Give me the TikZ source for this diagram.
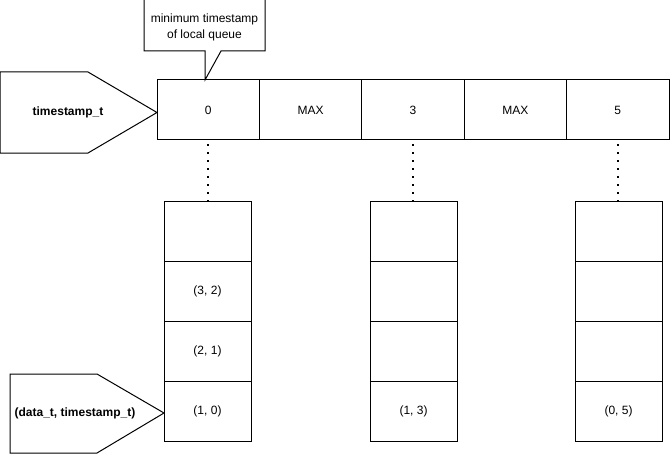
\documentclass[tikz,border=0pt]{standalone}
\usepackage{fontspec}
\setmainfont{Liberation Sans}
\begin{document}
\begin{tikzpicture}[x=0.75pt,y=-0.75pt,line width=0.75pt,
  txt/.style={font=\fontsize{9}{12}\selectfont},
  cell/.style={draw,rectangle,inner sep=0pt,outer sep=0pt,minimum width=76.8pt,minimum height=45pt,anchor=north west,txt},
  qcell/.style={draw,rectangle,inner sep=0pt,outer sep=0pt,minimum width=65.25pt,minimum height=45pt,anchor=north west,txt},
  lbl/.style={font=\fontsize{9}{12}\selectfont\bfseries},
  dotline/.style={line width=1.1pt,dash pattern=on 1.2pt off 4.8pt,dash phase=-3pt}]
\useasboundingbox (0,0) rectangle (670,456);
% callout
\draw (144,51) -- (144,-1) -- (265,-1) -- (265,51) -- (221,51) -- (205,80) -- (205,51) -- cycle;
\node[txt,align=center] (note) at (204.5,27) {minimum timestamp\\of local queue};
% top array
\node[cell] (t0) at (157,80) {0};
\node[cell] (t1) at (259.4,80) {MAX};
\node[cell] (t2) at (361.8,80) {3};
\node[cell] (t3) at (464.2,80) {MAX};
\node[cell] (t4) at (566.6,80) {5};
% pentagon 1
\draw (0,72) -- (88,72) -- (157,112.5) -- (88,153) -- (0,153) -- cycle;
\node[lbl] (p1) at (68,112) {timestamp\_t};
% pentagon 2
\draw (10,374) -- (97,374) -- (164,413) -- (97,453) -- (10,453) -- cycle;
\node[lbl] (p2) at (75,413) {(data\_t, timestamp\_t)};
% queue 1
\node[qcell] (a1) at (164,201) {};
\node[qcell] (a2) at (164,261) {(3, 2)};
\node[qcell] (a3) at (164,321) {(2, 1)};
\node[qcell] (a4) at (164,381) {(1, 0)};
% queue 2
\node[qcell] (b1) at (370,201) {};
\node[qcell] (b2) at (370,261) {};
\node[qcell] (b3) at (370,321) {};
\node[qcell] (b4) at (370,381) {(1, 3)};
% queue 3
\node[qcell] (c1) at (575,201) {};
\node[qcell] (c2) at (575,261) {};
\node[qcell] (c3) at (575,321) {};
\node[qcell] (c4) at (575,381) {(0, 5)};
% dotted links
\draw[dotline] (t0.south) -- (t0.south |- a1.north);
\draw[dotline] (t2.south) -- (t2.south |- b1.north);
\draw[dotline] (t4.south) -- (t4.south |- c1.north);
\end{tikzpicture}
\end{document}
